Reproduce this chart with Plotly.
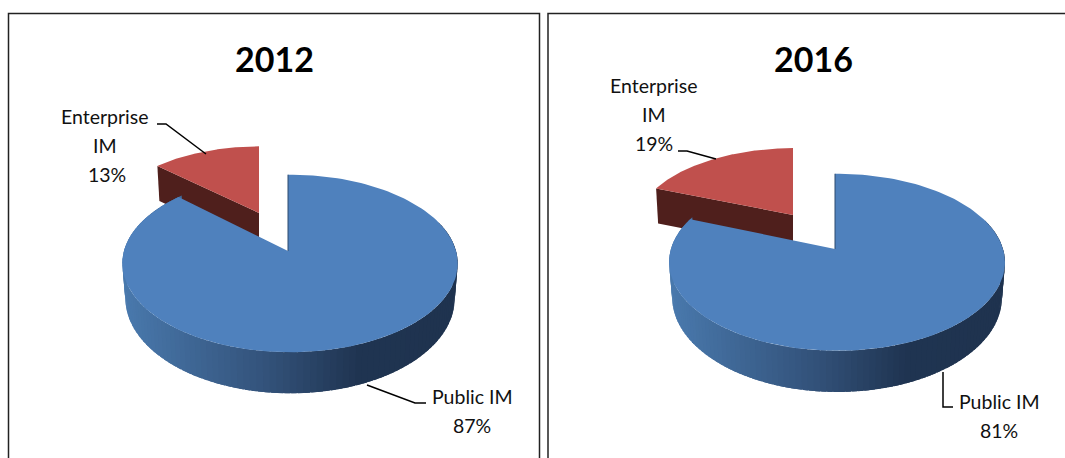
import math
import plotly.graph_objects as go

# ---- data ----
YEARS = ["2012", "2016"]
ENTERPRISE_PCT = [13, 19]
PUBLIC_PCT = [87, 81]
ENTERPRISE_LINES = ["Enterprise", "IM"]
PUBLIC_LINES = ["Public IM"]

# ---- style / layout ----
W, H = 1065, 458
FONT = "Lato"
BLUE = "#4f81bd"
RED = "#c0504d"
RED_SIDE = "#4f1f1c"
GRAD = [(0.0, (0x4a, 0x7a, 0xae)), (0.45, (0x33, 0x52, 0x7a)), (0.72, (0x20, 0x35, 0x52)), (1.0, (0x1f, 0x33, 0x4f))]

PANELS = [
    dict(blue_apex=(288, 251), blue_a=166.0, blue_b=87.0, k=0.14,
         red_apex=(259, 213), red_a=154.0, red_b=76.0, title_x=274,
         frame=(8.5, 539.5),
         ent_pos=[(105, 116), (105, 145), (107, 174)], pub_pos=[(472, 396), (472, 425)],
         lead_ent="M 157 124 L 166 124 L 206 154", lead_pub="M 367 385 L 415 403 L 426 403"),
    dict(blue_apex=(835, 249), blue_a=166.0, blue_b=86.5, k=0.15,
         red_apex=(793, 215), red_a=157.0, red_b=77.0, title_x=813,
         frame=(548, 1075),
         ent_pos=[(654, 85), (654, 114), (654, 143)], pub_pos=[(999, 401), (999, 430)],
         lead_ent="M 678 151 L 687 151 L 716 159", lead_pub="M 943 372 L 943 407 L 953 407"),
]
M = 0.012  # left/right perspective
DEPTH = 35


def project(theta, apex, a, b, k):
    X, Y = math.sin(theta), -math.cos(theta)
    d = 1 - k * Y - M * X
    return apex[0] + a * X / d, apex[1] + b * Y / d


def lower(pt, apex, b):
    # far rim is pulled slightly inward, and stretched toward the viewer
    return apex[0] + 2 + (pt[0] - apex[0] - 2) * 0.982, pt[1] + DEPTH + max(0, pt[1] - apex[1] - 13) * 0.07


def arc(p0, p1, apex, a, b, k, n=160):
    return [project(math.radians(p0 + (p1 - p0) * i / n), apex, a, b, k) for i in range(n + 1)]


def grad_color(t):
    t = min(1, max(0, t))
    for (t0, c0), (t1, c1) in zip(GRAD, GRAD[1:]):
        if t <= t1:
            f = (t - t0) / (t1 - t0)
            return "rgb(%d,%d,%d)" % tuple(c0[j] + (c1[j] - c0[j]) * f for j in range(3))
    return "rgb(%d,%d,%d)" % GRAD[-1][1]


def poly(fig, pts, color):
    xs = [p[0] for p in pts] + [pts[0][0]]
    ys = [p[1] for p in pts] + [pts[0][1]]
    fig.add_trace(go.Scatter(x=xs, y=ys, mode="lines", fill="toself", fillcolor=color,
                             line=dict(color=color, width=0), hoverinfo="skip", showlegend=False))


fig = go.Figure()
annots, shapes = [], []

for i, P in enumerate(PANELS):
    ent = ENTERPRISE_PCT[i]
    pub = PUBLIC_PCT[i]
    blue_end = pub * 3.6
    red_start = -ent * 3.6
    k = P["k"]
    ba, bw, bh = P["blue_apex"], P["blue_a"], P["blue_b"]
    ra, rw, rh = P["red_apex"], P["red_a"], P["red_b"]

    # red slice: radial side face, then top
    outer = project(math.radians(red_start), ra, rw, rh, k)
    poly(fig, [outer, ra, (ra[0], ra[1] + DEPTH), (outer[0] + 2, outer[1] + DEPTH)], RED_SIDE)
    poly(fig, [ra] + arc(red_start, 0, ra, rw, rh, k), RED)

    # blue slice: shaded rim, cut into overlapping strips, then top
    steps = 120
    left_x = ba[0] - bw
    right_x = ba[0] + bw
    step = (blue_end - 70) / steps
    for s in range(steps):
        t0 = 70 + step * s
        t1 = t0 + step * 1.8
        mid = project(math.radians(t0), ba, bw, bh, k)
        ring = [project(math.radians(t0 + (t1 - t0) * j / 3), ba, bw, bh, k) for j in range(4)]
        low = [lower(p, ba, bh) for p in ring]
        col = grad_color((mid[0] - left_x) / (right_x - left_x))
        poly(fig, ring + low[::-1], col)
    poly(fig, [ba] + arc(0, blue_end, ba, bw, bh, k), BLUE)
    top_pt = project(0, ba, bw, bh, k)
    fig.add_trace(go.Scatter(x=[ba[0], top_pt[0]], y=[ba[1], top_pt[1]], mode="lines",
                             line=dict(color="#2d4a6e", width=1), hoverinfo="skip", showlegend=False))

    # frame, leaders
    xl, xr = P["frame"]
    shapes.append(dict(type="path", path=f"M {xl} 470 L {xl} 13.5 L {xr} 13.5 L {xr} 470",
                       line=dict(color="#222222", width=1.5), layer="below"))
    for key in ("lead_ent", "lead_pub"):
        shapes.append(dict(type="path", path=P[key], line=dict(color="#000000", width=1.5)))

    # text
    annots.append(dict(x=P["title_x"], y=58, text=f"<b>{YEARS[i]}</b>", showarrow=False,
                       font=dict(family=FONT, size=34, color="#000000"), xanchor="center", yanchor="middle"))
    for txt, pos in zip(ENTERPRISE_LINES + [f"{ent}%"], P["ent_pos"]):
        annots.append(dict(x=pos[0], y=pos[1], text=txt, showarrow=False,
                           font=dict(family=FONT, size=19.5, color="#111111"), xanchor="center", yanchor="middle"))
    for txt, pos in zip(PUBLIC_LINES + [f"{pub}%"], P["pub_pos"]):
        annots.append(dict(x=pos[0], y=pos[1], text=txt, showarrow=False,
                           font=dict(family=FONT, size=19.5, color="#111111"), xanchor="center", yanchor="middle"))

fig.update_layout(
    width=W, height=H, margin=dict(l=0, r=0, t=0, b=0),
    paper_bgcolor="white", plot_bgcolor="white", showlegend=False,
    xaxis=dict(range=[0, W], visible=False, fixedrange=True),
    yaxis=dict(range=[H, 0], visible=False, fixedrange=True),
    annotations=annots, shapes=shapes,
)
fig.write_html("out.html", config={"displayModeBar": False},
               post_script="document.body.style.margin='0';document.documentElement.style.overflow='hidden';")
